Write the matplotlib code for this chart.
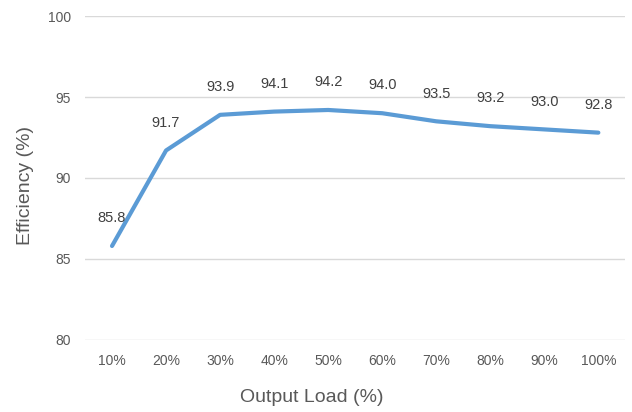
import matplotlib
matplotlib.use('Agg')
import matplotlib.pyplot as plt

# donnees
charges = ["10%", "20%", "30%", "40%", "50%", "60%", "70%", "80%", "90%", "100%"]
rendement = [85.8, 91.7, 93.9, 94.1, 94.2, 94.0, 93.5, 93.2, 93.0, 92.8]

plt.rcParams['font.family'] = ['Liberation Sans', 'DejaVu Sans']

fig = plt.figure(figsize=(6.32, 4.12), dpi=100)
ax = fig.add_axes([0.1345, 0.175, 0.855, 0.786])

x = range(len(charges))
ax.plot(x, rendement, color="#5B9BD5", linewidth=3, solid_capstyle='round', zorder=3)

for i, v in zip(x, rendement):
    ax.annotate(f"{v:.1f}", (i, v), xytext=(0, 20), textcoords="offset points",
                ha="center", va="center", fontsize=10.5, color="#404040")

ax.set_xlim(-0.5, len(charges) - 0.5)
ax.set_ylim(80, 100)
ax.set_yticks([80, 85, 90, 95, 100])
ax.set_xticks(list(x))
ax.set_xticklabels(charges)

ax.grid(axis='y', color="#D9D9D9", linewidth=1)
ax.set_axisbelow(True)
for s in ax.spines.values():
    s.set_visible(False)
ax.tick_params(length=0, labelsize=10, colors="#595959", pad=10)

# titres des axes places sur la figure
fig.text(0.493, 0.034, "Output Load (%)", fontsize=14, color="#595959",
         ha="center", va="center")
fig.text(0.04, 0.55, "Efficiency (%)", fontsize=14, color="#595959",
         ha="center", va="center", rotation=90)

plt.savefig("out.png", dpi=100)
